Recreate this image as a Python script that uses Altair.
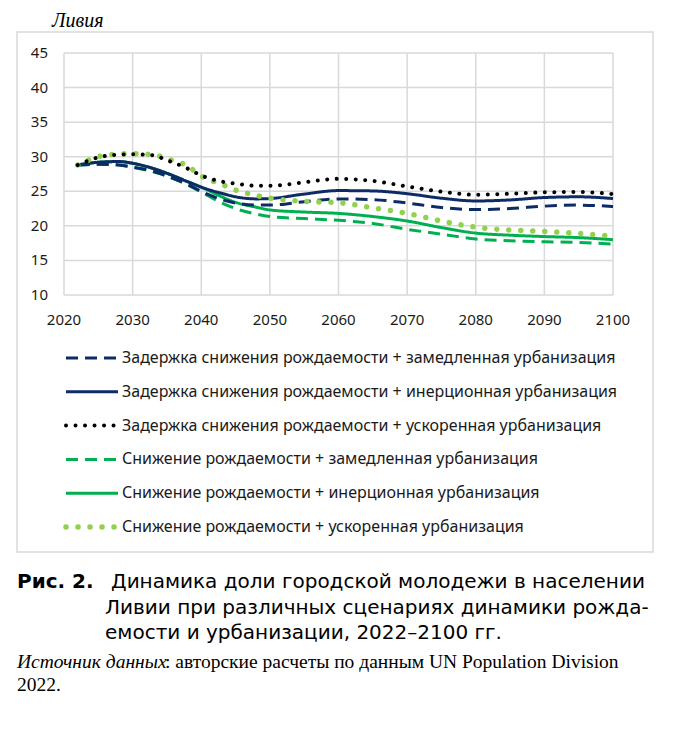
import altair as alt
import pandas as pd

years = [2022, 2025, 2028, 2030, 2033, 2035, 2038, 2040, 2043, 2045, 2048, 2050,
         2055, 2060, 2065, 2070, 2075, 2080, 2085, 2090, 2095, 2100]

delay_slow = [28.8, 28.9, 28.8, 28.5, 27.9, 27.2, 26.0, 25.0, 23.8, 23.3, 23.0, 23.0,
              23.5, 23.9, 23.8, 23.3, 22.65, 22.35, 22.5, 22.85, 23.0, 22.8]
delay_inert = [28.8, 29.2, 29.3, 29.05, 28.3, 27.6, 26.4, 25.6, 24.7, 24.2, 23.9, 23.95,
               24.6, 25.1, 25.05, 24.65, 24.0, 23.6, 23.75, 24.1, 24.2, 23.95]
delay_accel = [28.8, 29.9, 30.3, 30.35, 30.2, 29.5, 28.3, 27.3, 26.4, 26.1, 25.8, 25.8,
               26.3, 26.8, 26.5, 25.7, 24.95, 24.5, 24.65, 24.85, 24.9, 24.6]
decl_slow = [28.8, 28.9, 28.8, 28.5, 27.8, 27.2, 25.9, 24.9, 23.3, 22.5, 21.7, 21.35,
             21.05, 20.8, 20.35, 19.5, 18.8, 18.1, 17.85, 17.7, 17.6, 17.35]
decl_inert = [28.8, 29.2, 29.3, 29.05, 28.3, 27.6, 26.4, 25.6, 24.2, 23.4, 22.7, 22.3,
              22.0, 21.8, 21.35, 20.7, 19.75, 18.95, 18.65, 18.45, 18.3, 18.0]
decl_accel = [28.8, 30.0, 30.4, 30.45, 30.3, 29.7, 28.65, 27.2, 26.0, 25.2, 24.4, 24.0,
              23.55, 23.35, 22.6, 21.8, 20.7, 19.8, 19.4, 19.2, 18.9, 18.5]

labels = [
    "Задержка снижения рождаемости + замедленная урбанизация",
    "Задержка снижения рождаемости + инерционная урбанизация",
    "Задержка снижения рождаемости + ускоренная урбанизация",
    "Снижение рождаемости + замедленная урбанизация",
    "Снижение рождаемости + инерционная урбанизация",
    "Снижение рождаемости + ускоренная урбанизация",
]

x_ticks = [2020, 2030, 2040, 2050, 2060, 2070, 2080, 2090, 2100]
y_ticks = [10, 15, 20, 25, 30, 35, 40, 45]

series_values = [delay_slow, delay_inert, delay_accel, decl_slow, decl_inert, decl_accel]

styles = [
    dict(color="#0d2b66", strokeWidth=3, strokeDash=[12, 7], strokeCap="butt"),
    dict(color="#0d2b66", strokeWidth=3, strokeDash=[1, 0], strokeCap="butt"),
    dict(color="#000000", strokeWidth=4, strokeDash=[0.01, 9.5], strokeCap="round"),
    dict(color="#00b050", strokeWidth=3, strokeDash=[12, 7], strokeCap="butt"),
    dict(color="#00b050", strokeWidth=3, strokeDash=[1, 0], strokeCap="butt"),
    dict(color="#92d050", strokeWidth=5.5, strokeDash=[0.01, 12], strokeCap="round"),
]

rows = []
for i, (lab, vals) in enumerate(zip(labels, series_values)):
    for yr, v in zip(years, vals):
        rows.append({"year": yr, "value": v, "series": lab, "row": i})
df = pd.DataFrame(rows)
legend_df = pd.DataFrame({"label": labels, "row": list(range(len(labels)))})

xsc = alt.Scale(domain=[2020, 2100], range=[47, 596], nice=False, zero=False)
ysc = alt.Scale(domain=[10, 45], range=[263, 21], nice=False, zero=False)
lsc = alt.Scale(domain=[0, 5], range=[326, 495], nice=False, zero=False)

GRID = "#d9d9d9"
layers = []

vgrid = alt.Chart(pd.DataFrame({"yr": x_ticks})).mark_rule(color=GRID, strokeWidth=1.5).encode(
    x=alt.X("yr:Q", scale=xsc, axis=None),
    y=alt.YDatum(10, scale=ysc, axis=None),
    y2=alt.datum(45),
)
hgrid = alt.Chart(pd.DataFrame({"v": y_ticks})).mark_rule(color=GRID, strokeWidth=1.5).encode(
    y=alt.Y("v:Q", scale=ysc, axis=None),
    x=alt.XDatum(2020, scale=xsc, axis=None),
    x2=alt.datum(2100),
)
layers += [vgrid, hgrid]

xlab = alt.Chart(pd.DataFrame({"yr": x_ticks})).mark_text(
    font="Noto Sans", fontSize=15, color="#1a1a1a", dy=25, baseline="middle"
).encode(
    x=alt.X("yr:Q", scale=xsc, axis=None),
    y=alt.YDatum(10, scale=ysc, axis=None),
    text=alt.Text("yr:Q", format="d"),
)
ylab = alt.Chart(pd.DataFrame({"v": y_ticks})).mark_text(
    font="Noto Sans", fontSize=15, color="#1a1a1a", dx=-16, align="right", baseline="middle"
).encode(
    y=alt.Y("v:Q", scale=ysc, axis=None),
    x=alt.XDatum(2020, scale=xsc, axis=None),
    text=alt.Text("v:Q", format="d"),
)
layers += [xlab, ylab]

draw_order = [4, 3, 1, 0, 5, 2]
for i in draw_order:
    st = styles[i]
    line = alt.Chart(df).transform_filter(alt.datum.row == i).mark_line(
        interpolate="monotone", **st
    ).encode(
        x=alt.X("year:Q", scale=xsc, axis=None),
        y=alt.Y("value:Q", scale=ysc, axis=None),
    )
    layers.append(line)

for i in range(len(labels)):
    st = styles[i]
    sym = alt.Chart(legend_df).transform_filter(alt.datum.row == i).mark_rule(**st).encode(
        x=alt.value(49),
        x2=alt.value(101),
        y=alt.Y("row:Q", scale=lsc, axis=None),
    )
    layers.append(sym)

leg_text = alt.Chart(legend_df).mark_text(
    font="Noto Sans", fontSize=16, color="#1a1a1a", align="left", baseline="middle"
).encode(
    x=alt.value(105),
    y=alt.Y("row:Q", scale=lsc, axis=None),
    text="label:N",
)
layers.append(leg_text)

one = pd.DataFrame({"a": [0]})


def txt(s, x, y, **kw):
    base = dict(align="left", baseline="middle", color="#000000")
    base.update(kw)
    return alt.Chart(one).mark_text(**base).encode(
        x=alt.value(x), y=alt.value(y), text=alt.value(s)
    )


layers.append(txt("Ливия", 35, -11, font="Liberation Serif", fontStyle="italic", fontSize=20))
cap_font = dict(font="DejaVu Sans", fontSize=20)
layers.append(txt("Рис. 2.", 0, 550, fontWeight="bold", **cap_font))
layers.append(txt("Динамика доли городской молодежи в населении", 94, 550, **cap_font))
layers.append(txt("Ливии при различных сценариях динамики рожда-", 88, 576, **cap_font))
layers.append(txt("емости и урбанизации, 2022–2100 гг.", 88, 601, **cap_font))
src_font = dict(font="Liberation Serif", fontSize=19.5)
layers.append(txt("Источник данных", 0, 630, fontStyle="italic", **src_font))
layers.append(txt(": авторские расчеты по данным UN Population Division", 148, 630, **src_font))
layers.append(txt("2022.", 0, 653, **src_font))

chart = alt.layer(*layers).resolve_scale(y="independent").properties(
    width=636,
    height=520,
    autosize=alt.AutoSizeParams(type="none"),
    padding={"left": 9, "top": 24, "right": 10, "bottom": 170},
).configure_view(stroke=GRID, strokeWidth=1.5)

chart.save("out.html", embed_options={"renderer": "svg", "actions": False})
